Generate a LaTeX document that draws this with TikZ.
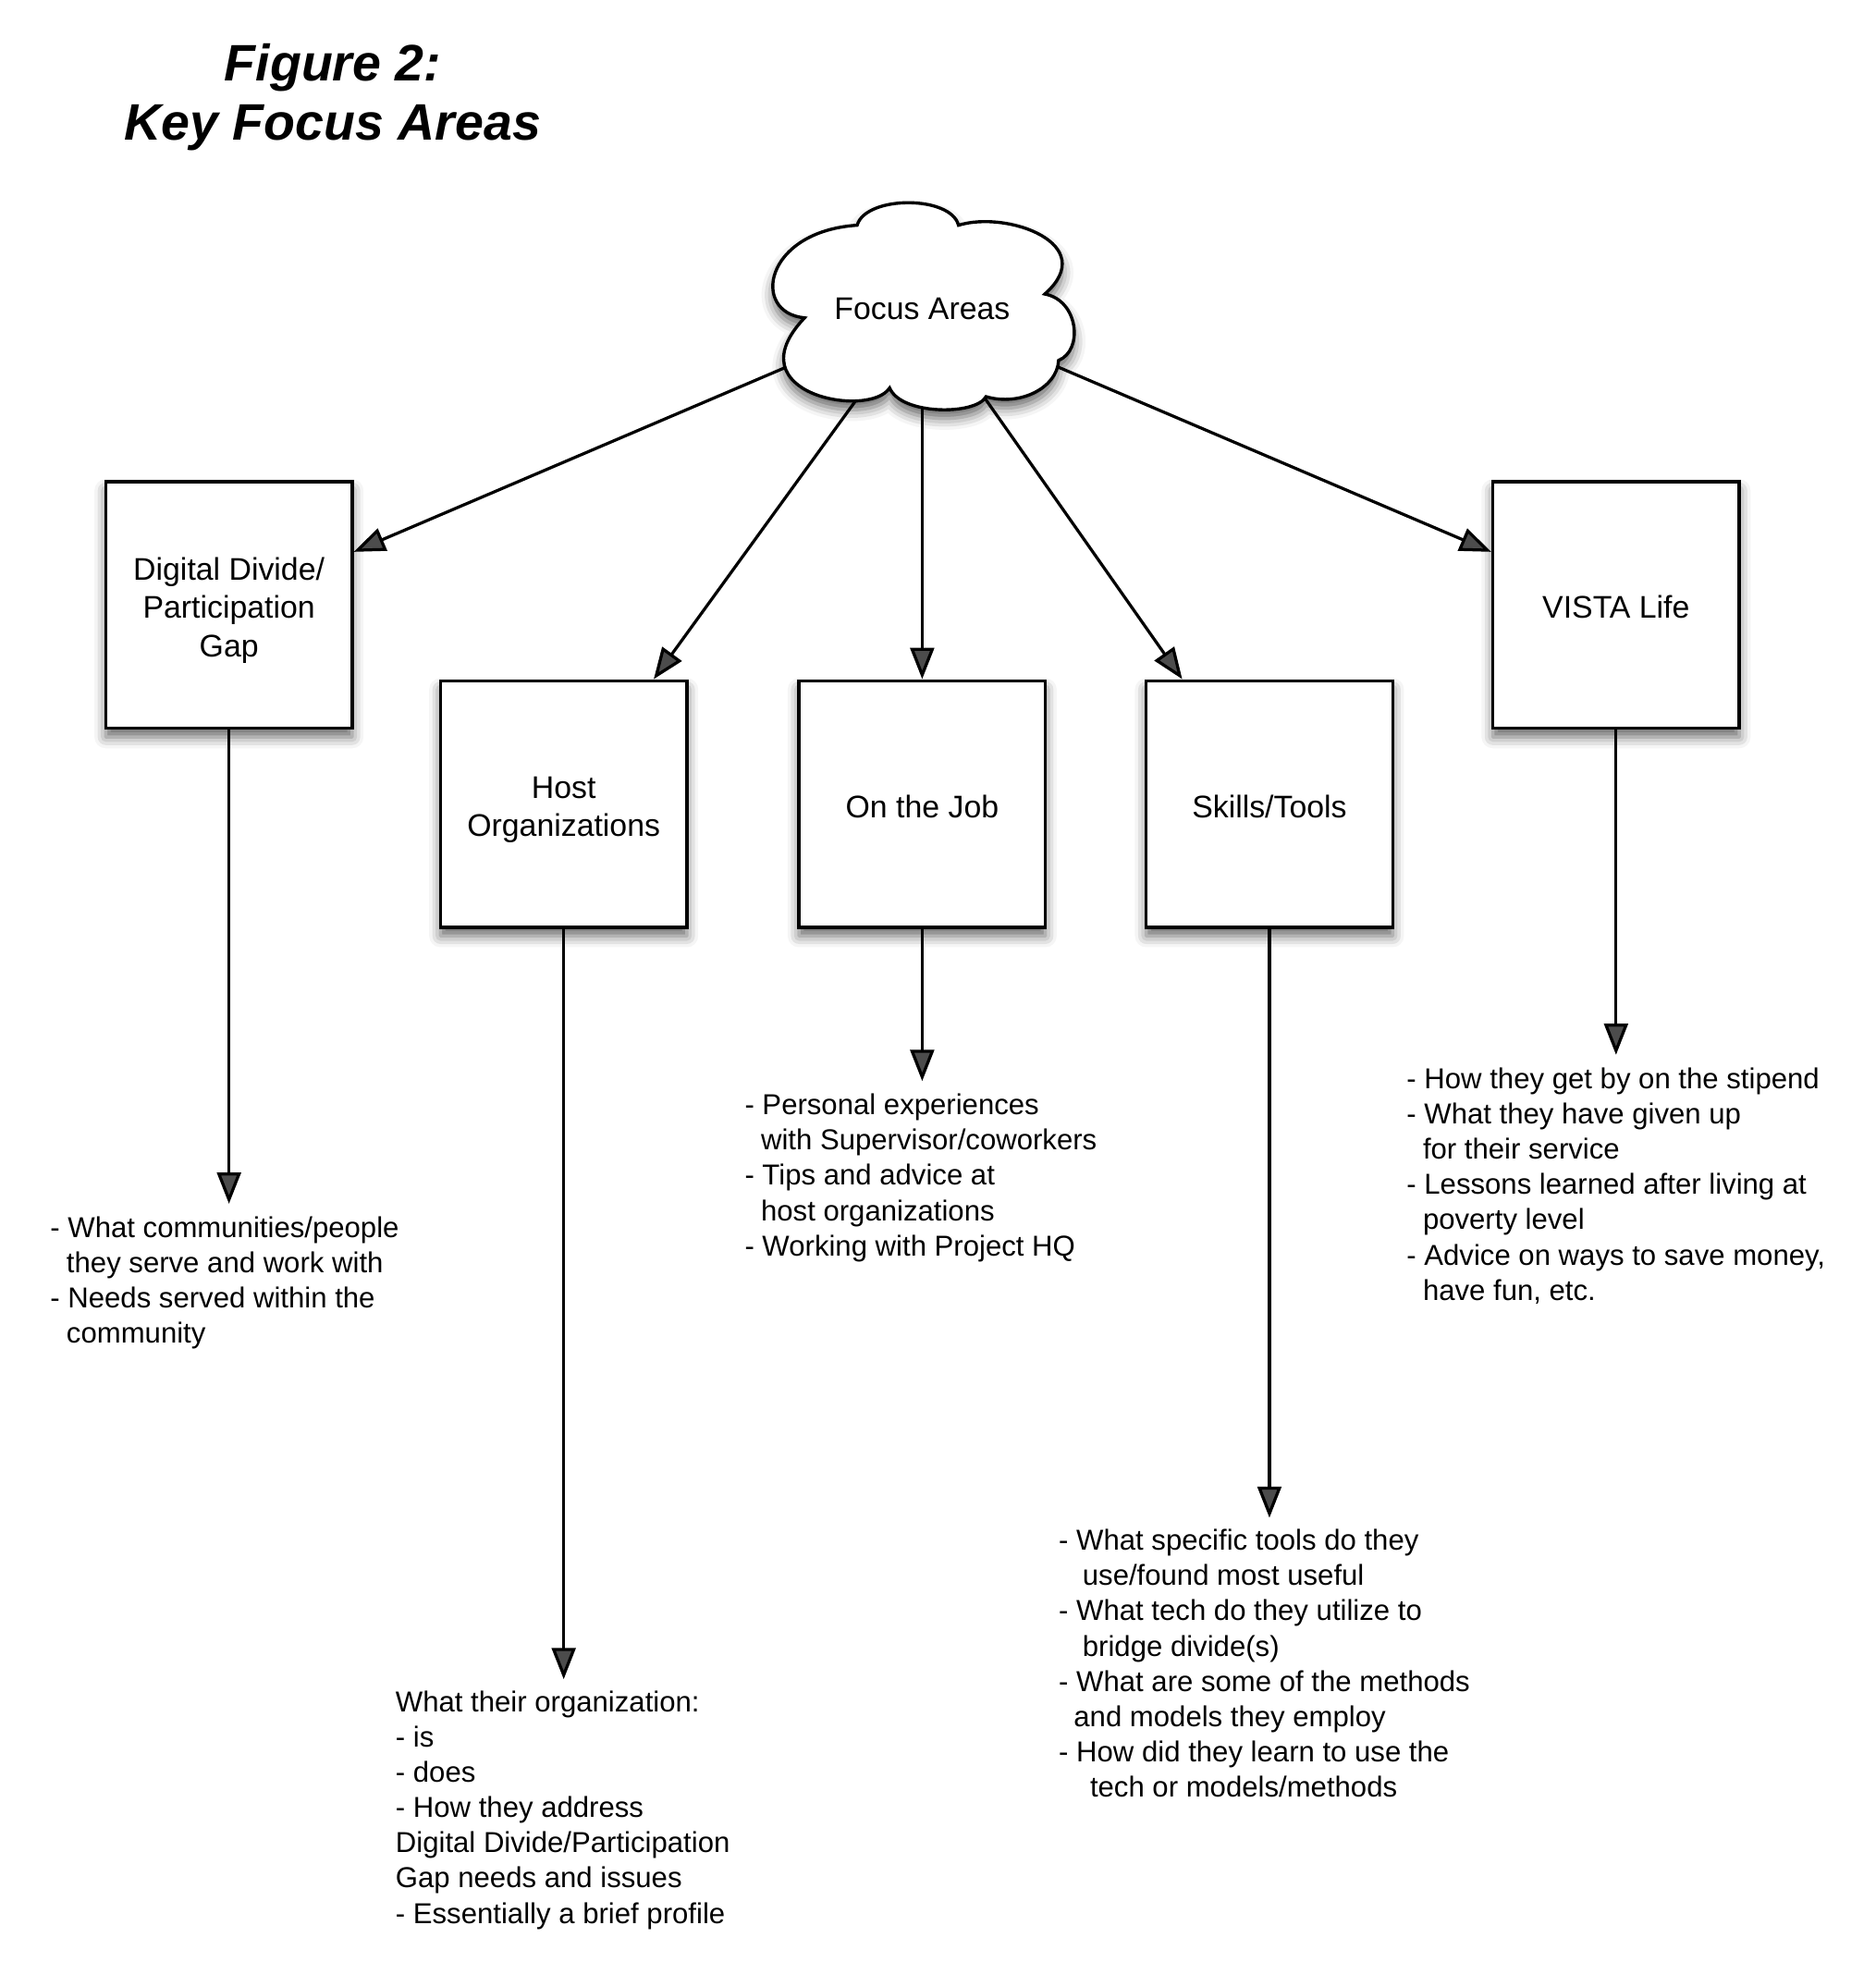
\documentclass[tikz,border=0pt]{standalone}
\usepackage{fontspec}
\setmainfont{Liberation Sans}
\usetikzlibrary{arrows.meta,shadows.blur,backgrounds,shapes.geometric}
\newcommand{\boxlbl}[1]{\raisebox{-4.7pt}[\height][\depth]{\begin{tabular}{@{}c@{}}#1\end{tabular}}}
\begin{document}
\begin{tikzpicture}[x=1pt,y=-1pt,
  shad/.style={blur shadow={shadow xshift=0pt,shadow yshift=-7pt,shadow blur radius=9pt,shadow opacity=60}},
  box/.style={draw,line width=2.5pt,fill=white,minimum width=197pt,minimum height=197pt,inner sep=0pt,font=\fontsize{25}{30.5}\selectfont,shad},
  conn/.style={line width=2.4pt,-{Triangle[length=25pt,width=19pt]}},
  txt/.style={anchor=north west,inner sep=0pt,align=left,font=\fontsize{23}{28.2}\selectfont},
]
\useasboundingbox (0,0) rectangle (1499,1568);

\node[font=\fontsize{41}{47}\selectfont\bfseries\itshape,align=center,anchor=north,inner sep=0pt] (title) at (266,35) {Figure 2:\\Key Focus Areas};

% cloud outline
\path[draw,line width=2.5pt,fill=white,shad] (643,254) .. controls (600,250) and (610,185) .. (685,180)
  .. controls (692,156) and (760,156) .. (766,180)
  .. controls (805,168) and (880,195) .. (835,235)
  .. controls (862,240) and (866,280) .. (846,288)
  .. controls (845,310) and (815,325) .. (788,317)
  .. controls (780,332) and (720,332) .. (711,310)
  .. controls (695,335) and (585,315) .. (643,254) -- cycle;
\node[ellipse,minimum width=236pt,minimum height=156pt,inner sep=0pt,font=\fontsize{25}{30}\selectfont] (focus) at (737,247) {Focus Areas};

\node[box] (dd) at (183,483.5) {\boxlbl{Digital Divide/\\Participation\\Gap}};
\node[box] (host) at (450.5,642.5) {\boxlbl{Host\\Organizations}};
\node[box] (job) at (737,642.5) {\boxlbl{On the Job}};
\node[box] (skills) at (1014.5,642.5) {\boxlbl{Skills/Tools}};
\node[box] (vista) at (1291.5,483.5) {\boxlbl{VISTA Life}};

\coordinate (ddend) at (183,962);
\coordinate (hostend) at (450.5,1342);
\coordinate (jobend) at (737,864);
\coordinate (skillsend) at (1014.5,1213);
\coordinate (vistaend) at (1291.5,843);

\begin{scope}[on background layer]
\draw[conn] (focus) -- (dd);
\draw[conn] (focus) -- (host);
\draw[conn] (focus) -- (job);
\draw[conn] (focus) -- (skills);
\draw[conn] (focus) -- (vista);
\end{scope}

\draw[conn] (dd) -- (ddend);
\draw[conn] (host) -- (hostend);
\draw[conn] (job) -- (jobend);
\draw[conn] (skills) -- (skillsend);
\draw[conn] (vista) -- (vistaend);

\node[txt] (ddtxt) at (40,972) {- What communities/people\\\hspace*{13pt}they serve and work with\\- Needs served within the\\\hspace*{13pt}community};
\node[txt] (jobtxt) at (595,874) {- Personal experiences\\\hspace*{13pt}with Supervisor/coworkers\\- Tips and advice at\\\hspace*{13pt}host organizations\\- Working with Project HQ};
\node[txt] (vistatxt) at (1124,853) {- How they get by on the stipend\\- What they have given up\\\hspace*{13pt}for their service\\- Lessons learned after living at\\\hspace*{13pt}poverty level\\- Advice on ways to save money,\\\hspace*{13pt}have fun, etc.};
\node[txt] (skillstxt) at (846,1222) {- What specific tools do they\\\hspace*{19pt}use/found most useful\\- What tech do they utilize to\\\hspace*{19pt}bridge divide(s)\\- What are some of the methods\\\hspace*{12pt}and models they employ\\- How did they learn to use the\\\hspace*{25pt}tech or models/methods};
\node[txt] (hosttxt) at (316,1351) {What their organization:\\- is\\- does\\- How they address\\Digital Divide/Participation\\Gap needs and issues\\- Essentially a brief profile};
\end{tikzpicture}
\end{document}
